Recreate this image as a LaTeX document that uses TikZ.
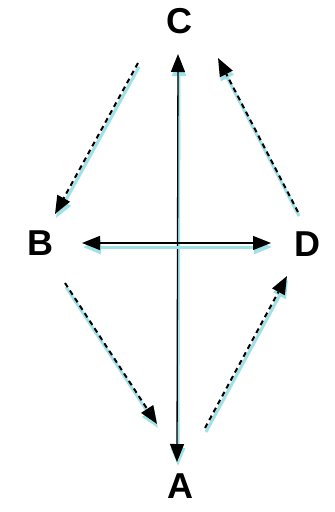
\documentclass[tikz,border=0pt]{standalone}
\usepackage{fontspec}
\setmainfont{Liberation Sans}
\usetikzlibrary{arrows.meta}
\definecolor{shc}{RGB}{80,200,210}
\begin{document}
\begin{tikzpicture}[x=1pt,y=-1pt,
  lbl/.style={font=\bfseries\fontsize{36}{36}\selectfont, inner sep=0pt, text=black},
  tip/.style={-{Triangle[length=18pt,width=14pt]}},
  dtip/.style={{Triangle[length=18pt,width=14pt]}-{Triangle[length=18pt,width=14pt]}},
  shadow/.style={preaction={draw=shc!55!white, line width=3pt, transform canvas={xshift=1pt,yshift=-4pt}}},
  dash line/.style={tip, line width=2pt, dash pattern=on 5pt off 4pt, shadow},
  solid line/.style={line width=1.3pt, shadow}]
\useasboundingbox (0,0) rectangle (335,512);
\node[lbl] (C) at (179,21) {C};
\node[lbl] (B) at (40,243) {B};
\node[lbl] (D) at (307,244) {D};
\node[lbl] (A) at (180,486) {A};
\coordinate (vt) at (178,54);
\coordinate (vb) at (177,462);
\coordinate (hl) at (82,243);
\coordinate (hr) at (271,243);
\draw[solid line, dtip] (vb) -- (vt);
\draw[solid line, dtip] (hl) -- (hr);
\coordinate (c1) at (138,63);  \coordinate (c2) at (55,214);
\coordinate (b1) at (65,283);  \coordinate (b2) at (157,424);
\coordinate (a1) at (205,428); \coordinate (a2) at (287,276);
\coordinate (d1) at (298,212); \coordinate (d2) at (218,58);
\draw[dash line] (c1) -- (c2);
\draw[dash line] (b1) -- (b2);
\draw[dash line] (a1) -- (a2);
\draw[dash line] (d1) -- (d2);
\end{tikzpicture}
\end{document}
